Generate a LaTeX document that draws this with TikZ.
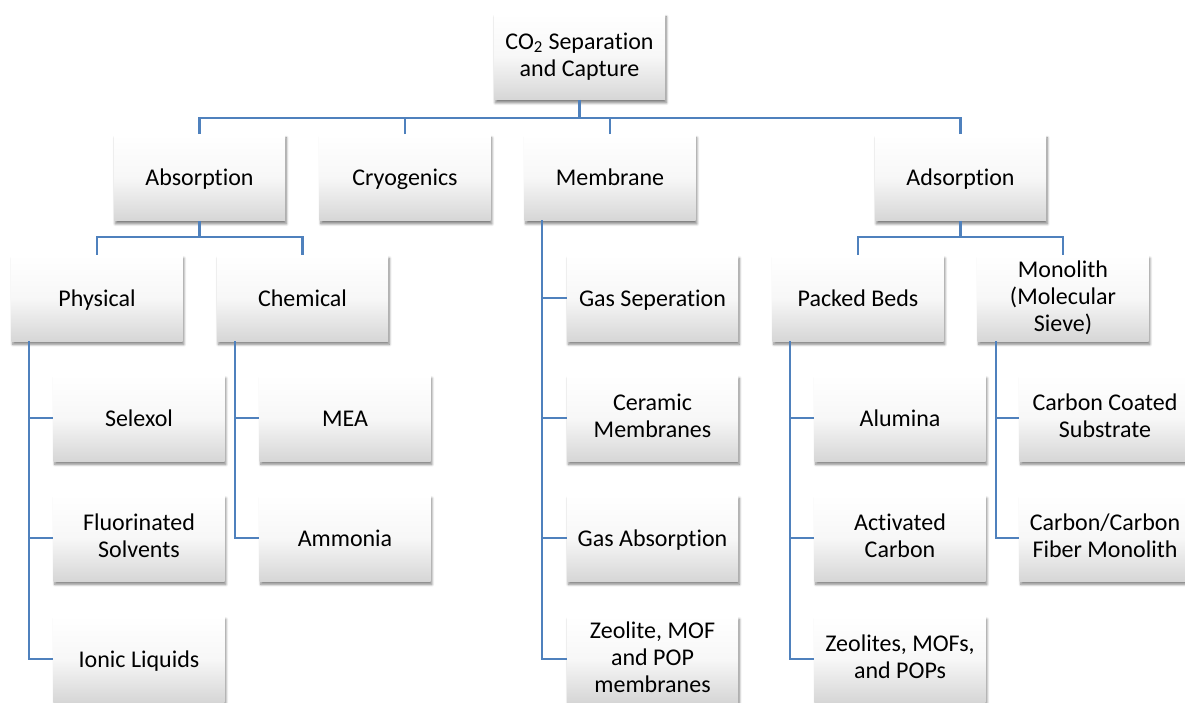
\documentclass[tikz,border=0pt]{standalone}
\usepackage{fontspec}
\setmainfont{Carlito}[Ligatures=NoCommon]
\usetikzlibrary{shadows.blur}
\definecolor{lnc}{HTML}{4F81BD}
\newcommand{\bxstrut}{\rule[-3pt]{0pt}{18.5pt}}
\tikzset{
  bx/.style={rectangle, minimum width=128.25pt, minimum height=64.5pt,
    top color=white, bottom color=black!16, middle color=white!97!black,
    draw=none, align=center,
    font=\fontsize{18}{20.25}\selectfont, inner sep=2pt,
    execute at begin node=\bxstrut, execute at end node=\bxstrut,
    blur shadow={shadow xshift=1pt, shadow yshift=-2.5pt, shadow blur steps=6, shadow blur extra rounding=0pt, shadow opacity=50}},
  ln/.style={draw=lnc, line width=1.8pt}
}
\begin{document}
\begin{tikzpicture}[x=0.75pt,y=-0.75pt]
\useasboundingbox (0,0) rectangle (1185,703);
\clip (0,0) rectangle (1185,703);
\node[bx] (top) at (579.5,56.5) {CO\textsubscript{2} Separation\\and Capture};
\node[bx] (absn) at (199.5,177.5) {Absorption};
\node[bx] (cryo) at (405,177.5) {Cryogenics};
\node[bx] (memb) at (610,177.5) {Membrane};
\node[bx] (adsn) at (960.5,177.5) {Adsorption};
\node[bx] (phys) at (97,298) {Physical};
\node[bx] (chem) at (302.5,298) {Chemical};
\node[bx] (sel) at (139,418) {Selexol};
\node[bx] (flu) at (139,538) {Fluorinated\\Solvents};
\node[bx] (ion) at (139,659) {Ionic Liquids};
\node[bx] (mea) at (345,418) {MEA};
\node[bx] (amm) at (345,538) {Ammonia};
\node[bx] (gsep) at (652.5,298) {Gas Seperation};
\node[bx] (cer) at (652.5,418) {Ceramic\\Membranes};
\node[bx] (gabs) at (652.5,538) {Gas Absorption};
\node[bx] (zeo) at (652.5,659) {Zeolite, MOF\\and POP\\membranes};
\node[bx] (pack) at (858,298) {Packed Beds};
\node[bx] (mono) at (1063,298) {Monolith\\(Molecular\\Sieve)};
\node[bx] (alu) at (900,418) {Alumina};
\node[bx] (act) at (900,538) {Activated\\Carbon};
\node[bx] (zeos) at (900,659) {Zeolites, MOFs,\\and POPs};
\node[bx] (ccs) at (1105,418) {Carbon Coated\\Substrate};
\node[bx] (ccf) at (1105,538) {Carbon/Carbon\\Fiber Monolith};
% level 1 bus
\coordinate (b0) at (579.5,118);
\draw[ln] (top.south) -- (b0);
\foreach \n in {absn,cryo,memb,adsn} \draw[ln] (\n.north) |- (b0);
% absorption
\coordinate (b1) at (199.5,237);
\draw[ln] (absn.south) -- (b1);
\foreach \n in {phys,chem} \draw[ln] (\n.north) |- (b1);
% adsorption
\coordinate (b2) at (960.5,237);
\draw[ln] (adsn.south) -- (b2);
\foreach \n in {pack,mono} \draw[ln] (\n.north) |- (b2);
% children
\coordinate (p1) at (29,341);
\foreach \n in {sel,flu,ion} \draw[ln] (p1) |- (\n.west);
\coordinate (c1) at (235,341);
\foreach \n in {mea,amm} \draw[ln] (c1) |- (\n.west);
\coordinate (m1) at (542,220);
\foreach \n in {gsep,cer,gabs,zeo} \draw[ln] (m1) |- (\n.west);
\coordinate (k1) at (790,341);
\foreach \n in {alu,act,zeos} \draw[ln] (k1) |- (\n.west);
\coordinate (o1) at (996,341);
\foreach \n in {ccs,ccf} \draw[ln] (o1) |- (\n.west);
\end{tikzpicture}
\end{document}
